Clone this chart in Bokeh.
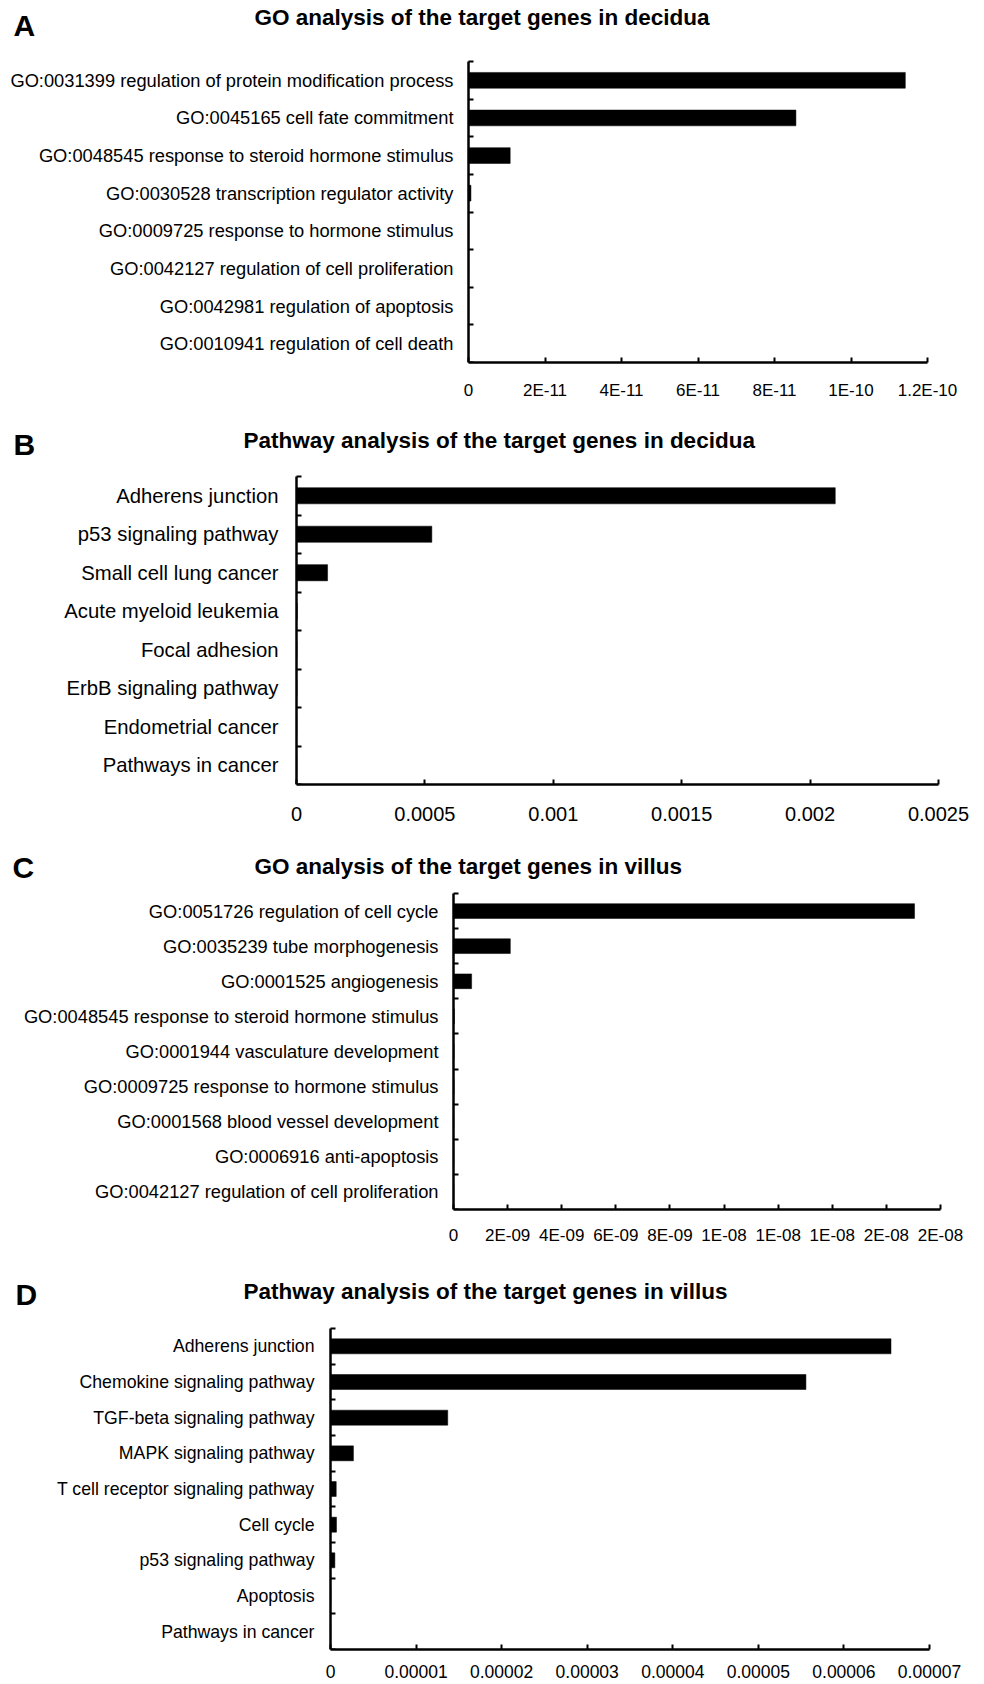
from bokeh.plotting import figure
from bokeh.models import Range1d, FixedTicker, Label, LinearAxis
from bokeh.layouts import column
from bokeh.embed import file_html
from bokeh.resources import INLINE

# ---------------- data ----------------
a_title = "GO analysis of the target genes in decidua"
a_terms = [
    "GO:0031399 regulation of protein modification process",
    "GO:0045165 cell fate commitment",
    "GO:0048545 response to steroid hormone stimulus",
    "GO:0030528 transcription regulator activity",
    "GO:0009725 response to hormone stimulus",
    "GO:0042127 regulation of cell proliferation",
    "GO:0042981 regulation of apoptosis",
    "GO:0010941 regulation of cell death",
]
a_values = [1.142e-10, 8.56e-11, 1.09e-11, 6.4e-13, 4e-14, 2e-14, 1e-14, 1e-14]
a_ticks = [0, 2e-11, 4e-11, 6e-11, 8e-11, 1e-10, 1.2e-10]
a_tick_labels = ["0", "2E-11", "4E-11", "6E-11", "8E-11", "1E-10", "1.2E-10"]

b_title = "Pathway analysis of the target genes in decidua"
b_terms = [
    "Adherens junction",
    "p53 signaling pathway",
    "Small cell lung cancer",
    "Acute myeloid leukemia",
    "Focal adhesion",
    "ErbB signaling pathway",
    "Endometrial cancer",
    "Pathways in cancer",
]
b_values = [0.002098, 0.000527, 0.000121, 3e-06, 2e-06, 2e-06, 1e-06, 1e-06]
b_ticks = [0, 0.0005, 0.001, 0.0015, 0.002, 0.0025]
b_tick_labels = ["0", "0.0005", "0.001", "0.0015", "0.002", "0.0025"]

c_title = "GO analysis of the target genes in villus"
c_terms = [
    "GO:0051726 regulation of cell cycle",
    "GO:0035239 tube morphogenesis",
    "GO:0001525 angiogenesis",
    "GO:0048545 response to steroid hormone stimulus",
    "GO:0001944 vasculature development",
    "GO:0009725 response to hormone stimulus",
    "GO:0001568 blood vessel development",
    "GO:0006916 anti-apoptosis",
    "GO:0042127 regulation of cell proliferation",
]
c_values = [1.704e-08, 2.10e-09, 6.7e-10, 3e-11, 2e-11, 2e-11, 1e-11, 1e-11, 1e-11]
c_ticks = [0, 2e-09, 4e-09, 6e-09, 8e-09, 1e-08, 1.2e-08, 1.4e-08, 1.6e-08, 1.8e-08]
c_tick_labels = ["0", "2E-09", "4E-09", "6E-09", "8E-09", "1E-08", "1E-08", "1E-08", "2E-08", "2E-08"]

d_title = "Pathway analysis of the target genes in villus"
d_terms = [
    "Adherens junction",
    "Chemokine signaling pathway",
    "TGF-beta signaling pathway",
    "MAPK signaling pathway",
    "T cell receptor signaling pathway",
    "Cell cycle",
    "p53 signaling pathway",
    "Apoptosis",
    "Pathways in cancer",
]
d_values = [6.55e-05, 5.556e-05, 1.37e-05, 2.68e-06, 6.7e-07, 7.0e-07, 5.1e-07, 4e-08, 2e-08]
d_ticks = [0, 1e-05, 2e-05, 3e-05, 4e-05, 5e-05, 6e-05, 7e-05]
d_tick_labels = ["0", "0.00001", "0.00002", "0.00003", "0.00004", "0.00005", "0.00006", "0.00007"]

# ---------------- styling / layout ----------------
FONT = "Liberation Sans"
W = 984
M = 0  # Bokeh's page template removes the body margin
TITLE_SHIFT = 8.5    # rendered baseline correction for the title labels
LETTER_SHIFT = 13    # rendered baseline correction for the panel letters


def panel(terms, values, ticks, tick_labels, title, letter, g):
    top_page, bottom_page = g["fig"]
    fl, fr, ft, fb = g["frame"]          # wanted axis box, page coords
    H = bottom_page - top_page
    n = len(terms)
    xmax = ticks[-1]
    # plot frame spans the full canvas width; data 0 lands on the y-axis position
    s = xmax / (fr - fl)
    x0 = -(fl - M) * s
    x1 = xmax + (W - (fr - M)) * s
    ft_l = ft - top_page
    fb_l = fb - top_page
    ytop = 0.5 - ft_l * n / (fb_l - ft_l)

    p = figure(width=W, height=H, output_backend="svg", toolbar_location=None,
               x_range=Range1d(x0, x1), y_range=Range1d(n + 0.5, ytop),
               x_axis_type=None, y_axis_type=None,
               min_border_left=0, min_border_right=0,
               min_border_top=0, min_border_bottom=H - fb_l)
    p.outline_line_color = None
    p.background_fill_color = "white"
    p.border_fill_color = "white"

    pos = list(range(1, n + 1))
    p.hbar(y=pos, left=0, right=values, height=0.42, fill_color="black", line_color="black", line_width=0.5)

    yax = LinearAxis(
        fixed_location=0, bounds=(0.5, n + 0.5),
        ticker=FixedTicker(ticks=pos, minor_ticks=[i + 0.5 for i in range(n + 1)]),
        major_label_overrides={i + 1: t for i, t in enumerate(terms)},
        major_tick_line_color=None, major_tick_in=0, major_tick_out=0,
        minor_tick_in=5, minor_tick_out=0, minor_tick_line_width=2, minor_tick_line_color="black",
        axis_line_width=2.5, axis_line_color="black",
        major_label_standoff=g["ystand"],
        major_label_text_font=FONT, major_label_text_font_size=g["catsize"],
        major_label_text_color="black",
    )
    p.add_layout(yax, "left")

    xax = LinearAxis(
        bounds=(0, xmax),
        ticker=FixedTicker(ticks=ticks, minor_ticks=[]),
        major_label_overrides=dict(zip(ticks, tick_labels)),
        major_tick_in=5, major_tick_out=0, major_tick_line_width=2, major_tick_line_color="black",
        minor_tick_line_color=None,
        axis_line_width=2.5, axis_line_color="black",
        major_label_standoff=g["xstand"],
        major_label_text_font=FONT, major_label_text_font_size=g["ticksize"],
        major_label_text_color="black",
    )
    p.add_layout(xax, "below")

    tx, tb = g["title_pos"]
    p.add_layout(Label(x=tx - M, y=fb - tb + TITLE_SHIFT, x_units="screen", y_units="screen", text=title,
                       text_font=FONT, text_font_style="bold", text_font_size="22.5px",
                       text_baseline="alphabetic", text_align="left", text_color="black"))
    lx, lb = g["letter_pos"]
    p.add_layout(Label(x=lx - M, y=fb - lb + LETTER_SHIFT, x_units="screen", y_units="screen", text=letter,
                       text_font=FONT, text_font_style="bold", text_font_size="30px",
                       text_baseline="alphabetic", text_align="left", text_color="black"))
    return p


geo_a = dict(fig=(0, 405), frame=(468, 927, 61, 362), ystand=15, xstand=18,
             catsize="18.3px", ticksize="17px", title_pos=(254, 25), letter_pos=(13, 38))
geo_b = dict(fig=(405, 835), frame=(296, 938, 476, 784), ystand=18, xstand=22,
             catsize="20.3px", ticksize="20px", title_pos=(243, 448), letter_pos=(13, 457))
geo_c = dict(fig=(835, 1262), frame=(453, 940, 893, 1209), ystand=15, xstand=16,
             catsize="18.3px", ticksize="17px", title_pos=(254, 874), letter_pos=(12, 880))
geo_d = dict(fig=(1262, 1684), frame=(330, 929, 1328, 1649), ystand=16, xstand=15,
             catsize="17.7px", ticksize="17.5px", title_pos=(243, 1299), letter_pos=(15, 1307))

pa = panel(a_terms, a_values, a_ticks, a_tick_labels, a_title, "A", geo_a)
pb = panel(b_terms, b_values, b_ticks, b_tick_labels, b_title, "B", geo_b)
pc = panel(c_terms, c_values, c_ticks, c_tick_labels, c_title, "C", geo_c)
pd = panel(d_terms, d_values, d_ticks, d_tick_labels, d_title, "D", geo_d)

layout = column(pa, pb, pc, pd, spacing=0)
open("out.html", "w").write(file_html(layout, INLINE))
